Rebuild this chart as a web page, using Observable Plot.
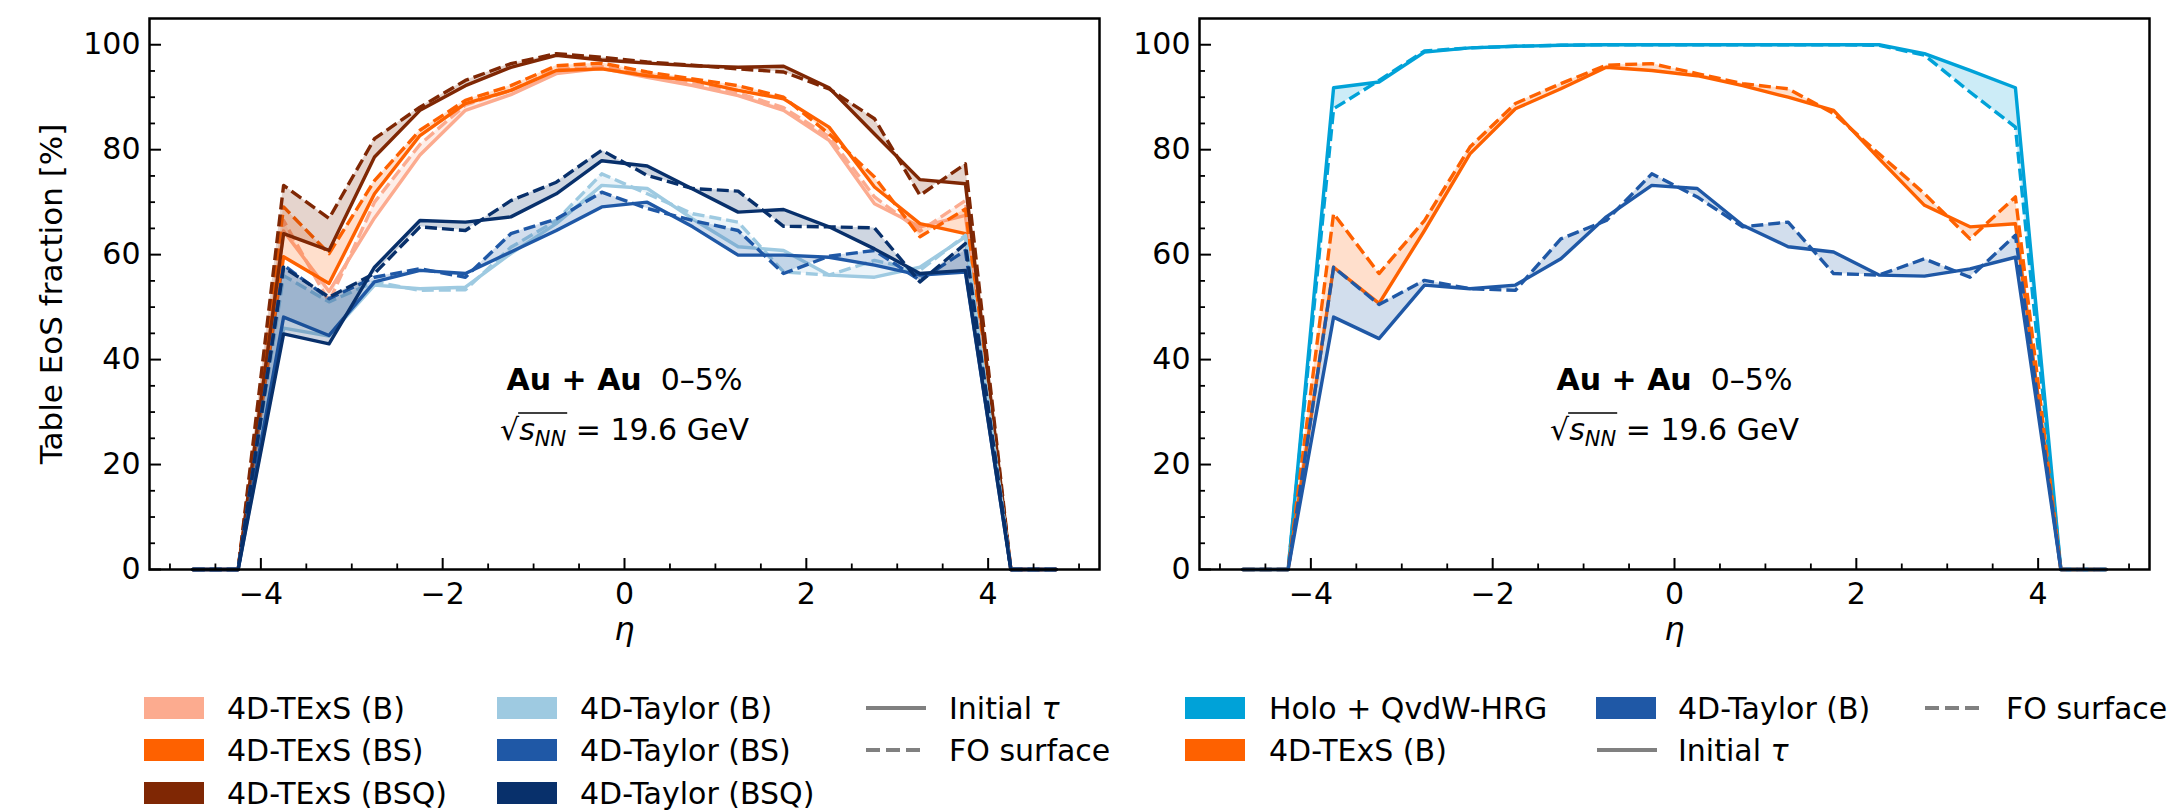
<!DOCTYPE html>
<html><head><meta charset="utf-8">
<script src="https://cdn.jsdelivr.net/npm/d3@7"></script>
<script src="https://cdn.jsdelivr.net/npm/@observablehq/plot@0.6"></script>
<style>
body{margin:0;background:#fff;font-family:"DejaVu Sans";}
#wrap{position:relative;width:2172px;height:811px;overflow:hidden;background:#fff;}
.panel{position:absolute;top:0;}
.leg{position:absolute;height:30px;display:flex;align-items:center;font-size:30px;white-space:pre;color:#000;font-family:"DejaVu Sans";}
.sw{position:absolute;}
</style></head><body><div id="wrap"></div>
<script>
// ---------------- DATA ----------------
const eta = [-4.75,-4.25,-3.75,-3.25,-2.75,-2.25,-1.75,-1.25,-0.75,-0.25,0.25,0.75,1.25,1.75,2.25,2.75,3.25,3.75,4.25,4.75];

// Left panel (initial tau = solid, FO surface = dashed)
const texsB_init    = [0,0,64.5,53.0,67.0,79.0,87.5,90.5,94.5,95.5,93.8,92.2,90.3,87.5,81.8,69.7,65.3,67.5,0,0];
const texsB_fo      = [0,0,66.5,51.0,70.0,81.0,88.5,91.3,95.3,95.8,94.2,92.6,90.8,88.0,82.5,71.0,64.5,70.3,0,0];
const texsBS_init   = [0,0,59.6,54.5,71.6,82.7,88.8,91.3,95.1,95.4,94.1,93.2,91.3,89.7,84.3,72.9,65.9,64.0,0,0];
const texsBS_fo     = [0,0,69.1,60.2,74.1,83.7,89.4,92.2,96.0,96.5,94.8,93.5,92.2,90.0,83.0,74.8,63.4,68.7,0,0];
const texsBSQ_init  = [0,0,64.0,60.8,78.6,87.5,92.2,95.7,98.0,97.1,96.5,96.0,95.7,95.9,91.8,83.0,74.3,73.5,0,0];
const texsBSQ_fo    = [0,0,73.2,66.9,82.1,88.1,93.2,96.4,98.3,97.6,96.7,96.1,95.4,94.8,91.6,85.9,71.3,77.3,0,0];
const taylorB_init  = [0,0,46.0,44.5,54.2,53.5,53.8,60.2,65.9,73.2,72.6,66.8,61.5,60.8,56.1,55.7,57.6,63.4,0,0];
const taylorB_fo    = [0,0,56.0,51.0,54.8,53.2,53.3,61.4,66.5,75.4,71.6,67.8,66.2,56.7,56.1,58.9,57.0,63.7,0,0];
const taylorBS_init = [0,0,48.1,44.6,54.8,57.0,56.4,60.5,64.6,69.1,70.0,65.3,59.9,59.9,59.5,58.0,56.1,56.7,0,0];
const taylorBS_fo   = [0,0,58.0,51.6,55.7,57.3,55.7,64.0,66.8,71.9,68.8,66.5,64.6,56.4,59.7,60.8,55.1,60.8,0,0];
const taylorBSQ_init= [0,0,44.9,43.0,57.6,66.5,66.2,67.2,71.6,77.9,76.9,72.5,68.1,68.6,65.3,61.1,56.4,57.0,0,0];
const taylorBSQ_fo  = [0,0,57.6,51.9,56.4,65.3,64.6,70.3,73.8,79.9,75.1,72.6,72.1,65.4,65.3,65.1,54.8,62.1,0,0];

// Right panel
const holo_init     = [0,0,91.8,92.9,98.6,99.4,99.7,99.9,100,100,100,100,100,100,100,98.3,95.1,91.8,0,0];
const holo_fo       = [0,0,87.8,93.2,98.8,99.4,99.7,99.9,100,100,100,100,100,100,99.9,98.0,91.0,84.3,0,0];
const rTexsB_init   = [0,0,57.6,50.7,64.6,79.2,87.8,91.6,95.7,95.1,94.1,92.2,90.0,87.5,78.3,69.4,65.3,65.9,0,0];
const rTexsB_fo     = [0,0,67.8,56.4,66.5,80.5,88.8,92.6,96.1,96.4,94.5,92.6,91.6,86.9,79.2,71.6,63.0,71.0,0,0];
const rTaylorB_init = [0,0,48.1,44.0,54.2,53.5,54.2,59.2,67.2,73.2,72.6,65.6,61.5,60.5,56.1,55.9,57.3,59.5,0,0];
const rTaylorB_fo   = [0,0,57.6,50.5,55.1,53.5,53.2,63.0,66.5,75.4,71.0,65.3,66.2,56.4,56.1,59.2,55.7,63.7,0,0];

// Labels / ticks
const leftNames  = ["4D-TExS (B)","4D-TExS (BS)","4D-TExS (BSQ)","4D-Taylor (B)","4D-Taylor (BS)","4D-Taylor (BSQ)"];
const rightNames = ["Holo + QvdW-HRG","4D-TExS (B)","4D-Taylor (B)"];
const lineNames  = ["Initial ","FO surface"];
const xTicks = [-4,-2,0,2,4];
const yTicks = [0,20,40,60,80,100];
const xMinorTicks = [-5,-4.5,-3.5,-3,-2.5,-1.5,-1,-0.5,0.5,1,1.5,2.5,3,3.5,4.5,5];
const yMinorTicks = [5,10,15,25,30,35,45,50,55,65,70,75,85,90,95];
const yTitle = "Table EoS fraction [%]";
const xTitle = "η";
const annot = [{x:0, y:36.1, t:"ANN1"}, {x:0, y:26.5, t:"ANN2"}];

// ---------------- STYLE ----------------
const C = {
  texsB:"#fcab8f", texsBS:"#fe6100", texsBSQ:"#7f2704",
  taylorB:"#9ecae1", taylorBS:"#1f58a6", taylorBSQ:"#08306b",
  holo:"#00a2d8"
};
const FS = 30;
const LW = 3.4;
const DASH = "12,5";

const leftSeries = [
  [texsB_init, texsB_fo, C.texsB],
  [texsBS_init, texsBS_fo, C.texsBS],
  [texsBSQ_init, texsBSQ_fo, C.texsBSQ],
  [taylorB_init, taylorB_fo, C.taylorB],
  [taylorBS_init, taylorBS_fo, C.taylorBS],
  [taylorBSQ_init, taylorBSQ_fo, C.taylorBSQ]
];
const rightSeries = [
  [holo_init, holo_fo, C.holo],
  [rTexsB_init, rTexsB_fo, C.texsBS],
  [rTaylorB_init, rTaylorB_fo, C.taylorBS]
];

function makePanel(series, width, mL, mR, withYTitle) {
  const marks = [];
  for (const [s, d, col] of series) {
    const rows = eta.map((e, i) => ({eta: e, s: s[i], d: d[i]}));
    marks.push(Plot.areaY(rows, {x: "eta", y1: "s", y2: "d", fill: col, fillOpacity: 0.2}));
    marks.push(Plot.line(rows, {x: "eta", y: "s", stroke: col, strokeWidth: LW}));
    marks.push(Plot.line(rows, {x: "eta", y: "d", stroke: col, strokeWidth: LW, strokeDasharray: DASH, strokeLinecap: "butt"}));
  }
  marks.push(
    Plot.axisX(xTicks, {anchor: "bottom", tickSize: -11, text: null, label: null, strokeWidth: 2}),
    Plot.axisX(xMinorTicks, {anchor: "bottom", tickSize: -5.5, text: null, label: null, strokeWidth: 1.8}),
    Plot.axisX(xTicks, {anchor: "bottom", tickSize: 0, tickPadding: 13, fontSize: FS, label: null}),
    Plot.axisY(yTicks, {anchor: "left", tickSize: -12, text: null, label: null, strokeWidth: 2}),
    Plot.axisY(yMinorTicks, {anchor: "left", tickSize: -6, text: null, label: null, strokeWidth: 1.8}),
    Plot.axisY(yTicks, {anchor: "left", tickSize: 0, tickPadding: 9, fontSize: FS, label: null}),
    Plot.text([xTitle], {text: d => d, frameAnchor: "bottom", dy: 60, fontSize: 32, fontStyle: "italic", textAnchor: "middle", lineAnchor: "middle"}),
    Plot.text(annot, {x: "x", y: "y", text: "t", fontSize: FS, textAnchor: "middle", lineAnchor: "middle"}),
    Plot.frame({stroke: "black", strokeWidth: 2.5})
  );
  if (withYTitle) marks.push(Plot.text([yTitle], {text: d => d, frameAnchor: "left", dx: -97, rotate: -90, fontSize: 31, textAnchor: "middle", lineAnchor: "middle"}));
  return Plot.plot({
    width, height: 660,
    marginLeft: mL, marginRight: mR, marginTop: 18, marginBottom: 91,
    x: {domain: [-5.225, 5.225]},
    y: {domain: [0, 105]},
    style: {fontFamily: "DejaVu Sans", fontSize: "30px", background: "transparent", overflow: "visible", color: "black"},
    marks
  });
}

const wrap = document.getElementById("wrap");
const pL = makePanel(leftSeries, 1110, 149, 11, true);
const pR = makePanel(rightSeries, 1062, 89, 23, false);
pL.classList.add("panel"); pL.style.left = "0px";
pR.classList.add("panel"); pR.style.left = "1110px";
wrap.appendChild(pL); wrap.appendChild(pR);

// rich annotation text
for (const svg of [pL, pR]) {
  const texts = d3.select(svg).selectAll("text");
  texts.filter(function(){ return this.textContent === "ANN1"; }).each(function(){
    const t = d3.select(this); t.text(null);
    t.append("tspan").attr("font-weight", "bold").text("Au + Au");
    t.append("tspan").text("\u00a0\u00a00–5%");
  });
  texts.filter(function(){ return this.textContent === "ANN2"; }).each(function(){
    const t = d3.select(this); t.text(null);
    t.append("tspan").text("√");
    t.append("tspan").attr("font-style", "italic").text("s");
    t.append("tspan").attr("font-style", "italic").attr("font-size", 21).attr("dy", 6).text("NN");
    t.append("tspan").attr("dy", -6).text("\u00a0= 19.6 GeV");
    const el = this;
    const p1 = el.getStartPositionOfChar(1), p3 = el.getEndPositionOfChar(3);
    const g = el.parentNode;
    const yb = p1.y - 27;
    d3.select(g).append("line").attr("x1", p1.x - 1).attr("x2", p3.x + 1).attr("y1", yb).attr("y2", yb)
      .attr("stroke", "black").attr("stroke-width", 1.6).attr("transform", el.getAttribute("transform"));
  });
}

// ---------------- LEGENDS ----------------
function patch(x, y, col) {
  const d = document.createElement("div");
  d.className = "sw";
  Object.assign(d.style, {left: x + "px", top: (y - 11) + "px", width: "60px", height: "22px", background: col});
  wrap.appendChild(d);
}
function lineSw(x, y, dashed) {
  const ns = "http://www.w3.org/2000/svg";
  const s = document.createElementNS(ns, "svg");
  s.setAttribute("width", 62); s.setAttribute("height", 10);
  s.setAttribute("class", "sw");
  s.style.left = x + "px"; s.style.top = (y - 5) + "px";
  const l = document.createElementNS(ns, "line");
  l.setAttribute("x1", 1); l.setAttribute("x2", 61); l.setAttribute("y1", 5); l.setAttribute("y2", 5);
  l.setAttribute("stroke", "#808080"); l.setAttribute("stroke-width", 4);
  if (dashed) l.setAttribute("stroke-dasharray", "14,6");
  s.appendChild(l); wrap.appendChild(s);
}
function label(x, y, html) {
  const d = document.createElement("div");
  d.className = "leg";
  d.style.left = x + "px"; d.style.top = (y - 15) + "px";
  d.innerHTML = html;
  wrap.appendChild(d);
}
const rowsY = [708, 750, 793];
const leftCols = [144, 497];
const lcol = [C.texsB, C.texsBS, C.texsBSQ, C.taylorB, C.taylorBS, C.taylorBSQ];
leftNames.forEach((n, i) => {
  const x = leftCols[Math.floor(i / 3)], y = rowsY[i % 3];
  patch(x, y, lcol[i]); label(x + 83, y, n);
});
const initLabel = "<span>" + lineNames[0].replace(" ", "&nbsp;") + "<i>τ</i></span>";
lineSw(865, rowsY[0], false); label(949, rowsY[0], initLabel);
lineSw(865, rowsY[1], true);  label(949, rowsY[1], lineNames[1]);

patch(1185, rowsY[0], C.holo);    label(1269, rowsY[0], rightNames[0]);
patch(1185, rowsY[1], C.texsBS);  label(1269, rowsY[1], rightNames[1]);
patch(1596, rowsY[0], C.taylorBS); label(1678, rowsY[0], rightNames[2]);
lineSw(1596, rowsY[1], false); label(1678, rowsY[1], initLabel);
lineSw(1924, rowsY[0], true);  label(2006, rowsY[0], lineNames[1]);
</script></body></html>
